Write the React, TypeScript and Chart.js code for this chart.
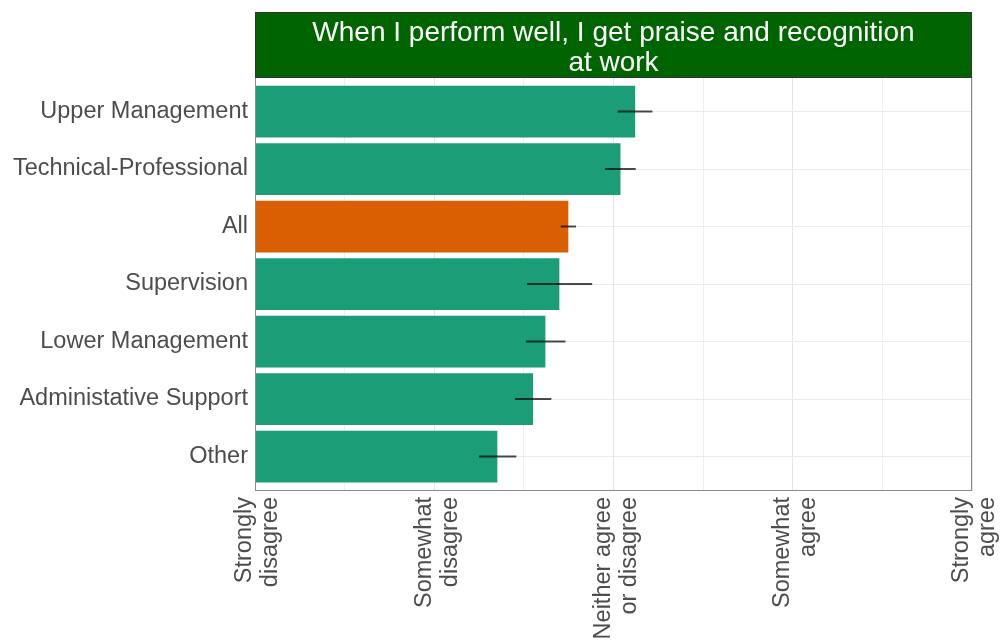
import React, { useEffect, useRef } from "react";
import { Chart, registerables } from "chart.js";

Chart.register(...registerables);

const categories = [
  "Upper Management",
  "Technical-Professional",
  "All",
  "Supervision",
  "Lower Management",
  "Administative Support",
  "Other",
];
const means = [3.121, 3.039, 2.748, 2.698, 2.62, 2.551, 2.352];
const lowerCI = [3.024, 2.953, 2.706, 2.518, 2.511, 2.451, 2.25];
const upperCI = [3.217, 3.124, 2.791, 2.881, 2.732, 2.653, 2.458];
const highlighted = [false, false, true, false, false, false, false];
const xTickLabels = [
  ["Strongly", "disagree"],
  ["Somewhat", "disagree"],
  ["Neither agree", "or disagree"],
  ["Somewhat", "agree"],
  ["Strongly", "agree"],
];
const xMinorSteps = [1, 1.5, 2, 2.5, 3, 3.5, 4, 4.5, 5];
const titleLines = ["When I perform well, I get praise and recognition", "at work"];

const FONT = '"Liberation Sans", Arial, Helvetica, sans-serif';
const GREEN = "#1B9E77";
const ORANGE = "#D95F02";

const stripPlugin = {
  id: "stripTitle",
  afterDraw(chart: any) {
    const { ctx, chartArea } = chart;
    const top = 12;
    ctx.save();
    ctx.fillStyle = "#006400";
    ctx.fillRect(chartArea.left, top, chartArea.right - chartArea.left, chartArea.top - top);
    ctx.strokeStyle = "#333333";
    ctx.lineWidth = 1;
    ctx.strokeRect(chartArea.left + 0.5, top + 0.5, chartArea.right - chartArea.left - 1, chartArea.top - top);
    ctx.fillStyle = "#ffffff";
    ctx.font = `28px ${FONT}`;
    ctx.textAlign = "center";
    ctx.textBaseline = "alphabetic";
    const cx = (chartArea.left + chartArea.right) / 2;
    ctx.fillText(titleLines[0], cx, 41);
    ctx.fillText(titleLines[1], cx, 71);
    ctx.restore();
  },
};

const errorBarPlugin = {
  id: "errorBars",
  afterDatasetsDraw(chart: any) {
    const { ctx } = chart;
    const xs = chart.scales.x;
    const ys = chart.scales.y;
    ctx.save();
    ctx.strokeStyle = "rgba(0,0,0,0.7)";
    ctx.lineWidth = 2;
    for (let i = 0; i < categories.length; i++) {
      const y = ys.getPixelForValue(i + 1);
      ctx.beginPath();
      ctx.moveTo(xs.getPixelForValue(lowerCI[i]), y);
      ctx.lineTo(xs.getPixelForValue(upperCI[i]), y);
      ctx.stroke();
    }
    const a = chart.chartArea;
    ctx.strokeStyle = "#8c8c8c";
    ctx.lineWidth = 1;
    ctx.strokeRect(a.left + 0.5, a.top + 0.5, a.right - a.left - 1, a.bottom - a.top - 1);
    ctx.restore();
  },
};

export default function App() {
  const canvasRef = useRef<HTMLCanvasElement | null>(null);

  useEffect(() => {
    const canvas = canvasRef.current;
    if (!canvas) return;
    const chart = new Chart(canvas, {
      type: "bar",
      data: {
        datasets: [
          {
            data: means.map((m, i) => ({ x: m, y: i + 1 })),
            backgroundColor: highlighted.map((h) => (h ? ORANGE : GREEN)),
            borderWidth: 0,
            base: 1,
            barPercentage: 0.9,
            categoryPercentage: 1,
          } as any,
        ],
      },
      plugins: [stripPlugin, errorBarPlugin],
      options: {
        indexAxis: "y",
        responsive: false,
        animation: false,
        devicePixelRatio: 1,
        layout: { padding: { top: 77, right: 30, left: 0, bottom: 0 } },
        plugins: {
          legend: { display: false },
          tooltip: { enabled: false },
          title: { display: false },
        },
        scales: {
          x: {
            type: "linear",
            min: 1,
            max: 5,
            offset: false,
            afterBuildTicks: (s: any) => {
              s.ticks = xMinorSteps.map((v) => ({ value: v }));
            },
            afterFit: (s: any) => {
              s.height = 151;
              s.paddingLeft = 0;
              s.paddingRight = 0;
            },
            ticks: {
              autoSkip: false,
              minRotation: 90,
              maxRotation: 90,
              padding: 6,
              labelOffset: -10,
              color: "#4d4d4d",
              font: { family: FONT, size: 23.5, lineHeight: 1.1 },
              callback: (v: any) => (Number.isInteger(v) ? xTickLabels[v - 1] : ""),
            },
            grid: {
              drawTicks: false,
              offset: false,
              color: (c: any) =>
                c.tick && Number.isInteger(c.tick.value) ? "#e4e4e4" : "#efefef",
              lineWidth: 1,
            },
            border: { display: false },
          },
          y: {
            type: "linear",
            reverse: true,
            min: 0.4,
            max: 7.6,
            offset: false,
            afterBuildTicks: (s: any) => {
              s.ticks = categories.map((_, i) => ({ value: i + 1 }));
            },
            afterFit: (s: any) => {
              s.width = 255;
              s.paddingTop = 0;
              s.paddingBottom = 0;
            },
            ticks: {
              autoSkip: false,
              padding: 7,
              color: "#4d4d4d",
              font: { family: FONT, size: 23.5 },
              callback: (v: any) => categories[v - 1] ?? "",
            },
            grid: { drawTicks: false, offset: false, color: "#ebebeb", lineWidth: 1 },
            border: { display: false },
          },
        },
      } as any,
    });
    return () => chart.destroy();
  }, []);

  return (
    <div
      style={{
        position: "fixed",
        left: 0,
        top: 0,
        width: 1002,
        height: 642,
        background: "#ffffff",
      }}
    >
      <canvas ref={canvasRef} width={1002} height={642} />
    </div>
  );
}
